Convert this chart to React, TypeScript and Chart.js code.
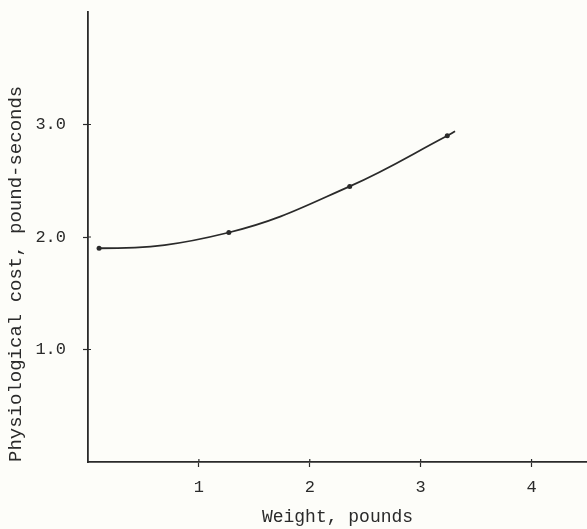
import React, { useEffect, useRef } from "react";
import { Chart, registerables } from "chart.js";

Chart.register(...registerables);

const weights = [0.1, 1.27, 2.36, 3.24, 3.31];
const costs = [1.9, 2.04, 2.45, 2.9, 2.94];
const markerRadius = [2.5, 2.5, 2.5, 2.5, 0];
const xTicks = [1, 2, 3, 4];
const yTicks = [1, 2, 3];
const yTickLabels = ["1.0", "2.0", "3.0"];
const xTitle = "Weight, pounds";
const yTitle = "Physiological cost, pound-seconds";

const INK = "#2a2a2a";
const FONT = "'Liberation Mono', 'Courier New', monospace";

const flatStart = {
  id: "flatStart",
  beforeDatasetsDraw(chart: any) {
    const meta = chart.getDatasetMeta(0);
    meta.dataset.updateControlPoints(chart.chartArea, "x");
    const p = meta.data[0];
    p.cp2y = p.y;
  },
};

const crossTicks = {
  id: "crossTicks",
  afterDraw(chart: any) {
    const ctx = chart.ctx;
    const xs = chart.scales.x;
    const ys = chart.scales.y;
    const area = chart.chartArea;
    ctx.save();
    ctx.strokeStyle = INK;
    ctx.lineWidth = 1.2;
    ctx.beginPath();
    xs.ticks.forEach((t: any) => {
      const px = xs.getPixelForValue(t.value);
      ctx.moveTo(px, area.bottom);
      ctx.lineTo(px, area.bottom - 3);
    });
    ys.ticks.forEach((t: any) => {
      const py = ys.getPixelForValue(t.value);
      ctx.moveTo(area.left, py);
      ctx.lineTo(area.left + 3, py);
    });
    ctx.stroke();
    ctx.restore();
  },
};

const bg = {
  id: "bg",
  beforeDraw(chart: any) {
    const ctx = chart.ctx;
    ctx.save();
    ctx.fillStyle = "#fdfdf9";
    ctx.fillRect(0, 0, chart.width, chart.height);
    ctx.restore();
  },
};

export default function App() {
  const ref = useRef<HTMLCanvasElement | null>(null);
  useEffect(() => {
    if (!ref.current) return;
    const chart = new Chart(ref.current, {
      type: "line",
      data: {
        datasets: [
          {
            data: weights.map((w, i) => ({ x: w, y: costs[i] })),
            borderColor: INK,
            backgroundColor: INK,
            borderWidth: 1.8,
            pointRadius: markerRadius,
            pointHoverRadius: 0,
            pointBorderWidth: 0,
            tension: 0.4,
            fill: false,
            clip: false,
          },
        ],
      },
      options: {
        animation: false,
        responsive: true,
        maintainAspectRatio: false,
        layout: { autoPadding: false, padding: { top: 12, right: 0, left: 0, bottom: 0 } },
        plugins: { legend: { display: false }, tooltip: { enabled: false } },
        scales: {
          x: {
            type: "linear",
            min: 0,
            max: 4.5,
            afterBuildTicks: (s: any) => {
              s.ticks = xTicks.map((v) => ({ value: v }));
            },
            afterFit: (s: any) => {
              s.height = 67;
              s.paddingLeft = 0;
              s.paddingRight = 0;
            },
            border: { display: true, color: INK, width: 1.8 },
            grid: {
              display: true,
              drawOnChartArea: false,
              drawTicks: true,
              tickLength: 5,
              tickColor: INK,
              tickWidth: 1.2,
            },
            ticks: {
              color: INK,
              font: { family: FONT, size: 17 },
              padding: 10,
              maxRotation: 0,
              callback: (v: any) => String(v),
            },
            title: {
              display: true,
              text: xTitle,
              color: INK,
              font: { family: FONT, size: 18 },
              padding: { top: 0, bottom: 1 },
            },
          },
          y: {
            type: "linear",
            min: 0,
            max: 4,
            afterBuildTicks: (s: any) => {
              s.ticks = yTicks.map((v) => ({ value: v }));
            },
            afterFit: (s: any) => {
              s.width = 88;
              s.paddingTop = 0;
              s.paddingBottom = 0;
            },
            border: { display: true, color: INK, width: 1.8 },
            grid: {
              display: true,
              drawOnChartArea: false,
              drawTicks: true,
              tickLength: 5,
              tickColor: INK,
              tickWidth: 1.2,
            },
            ticks: {
              color: INK,
              font: { family: FONT, size: 17 },
              padding: 17,
              callback: (v: any) => {
                const i = yTicks.indexOf(Number(v));
                return i >= 0 ? yTickLabels[i] : "";
              },
            },
            title: {
              display: true,
              text: yTitle,
              align: "start",
              color: INK,
              font: { family: FONT, size: 19 },
              padding: { top: 5, bottom: 0 },
            },
          },
        },
      },
      plugins: [bg, flatStart, crossTicks],
    } as any);
    return () => chart.destroy();
  }, []);
  return (
    <div style={{ position: "fixed", left: 0, top: 0, width: 587, height: 529 }}>
      <canvas ref={ref} />
    </div>
  );
}
